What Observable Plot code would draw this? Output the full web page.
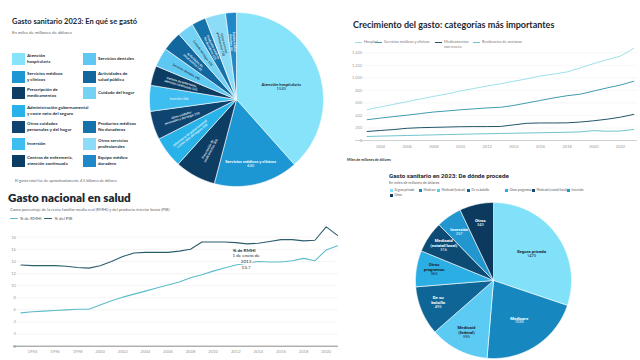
<!DOCTYPE html>
<html lang="es"><head><meta charset="utf-8">
<script src="https://cdn.jsdelivr.net/npm/d3@7"></script>
<script src="https://cdn.jsdelivr.net/npm/@observablehq/plot@0.6"></script>
<style>
html,body{margin:0;padding:0;background:#fff;}
body{width:640px;height:360px;position:relative;overflow:hidden;font-family:Lato,"Open Sans",sans-serif;color:#1b2733;}
.a{position:absolute;white-space:nowrap;}
.lg1{position:absolute;display:flex;align-items:center;}
.lg1 .sw{width:13px;height:12px;flex:none;margin-right:2px;}
.lg1 .tx{font-size:4.5px;font-weight:700;line-height:1.3;white-space:pre;color:#23313f;}
.lg2{position:absolute;display:flex;align-items:flex-start;font-size:3.8px;color:#777;white-space:pre;line-height:1.2;}
.lg2 .ln{width:7px;height:0;border-top:1px solid;margin:2px 2px 0 0;}
.lg3{position:absolute;display:flex;align-items:center;font-size:4.3px;color:#555;}
.lg3 .ln{width:8px;height:0;border-top:1.2px solid;margin:0 2px 0 0;}
.lg4{position:absolute;display:flex;align-items:center;font-size:3px;color:#555;white-space:nowrap;}
.lg4 .sq{width:3px;height:3px;margin-right:1.5px;}
.plot{position:absolute;}
</style></head><body>
<div id="root"></div>
<script>
// ---------- Panel 1: En qué se gastó ----------
const gastoCategorias = ["Atención hospitalaria","Servicios médicos y clínicos","Prescripción de medicamentos","Administración gubernamental y coste neto del seguro","Otros cuidados personales y del hogar","Inversión","Centros de enfermería, atención continuada","Servicios dentales","Actividades de salud pública","Cuidado del hogar","Productos médicos No duraderos","Otros servicios profesionales","Equipo médico duradero"];
const gastoLeyenda = ["Atención\nhospitalaria","Servicios médicos\ny clínicos","Prescripción de\nmedicamentos","Administración gubernamental\ny coste neto del seguro","Otros cuidados\npersonales y del hogar","Inversión","Centros de enfermería,\natención continuada","Servicios dentales","Actividades de\nsalud pública","Cuidado del hogar","Productos médicos\nNo duraderos","Otros servicios\nprofesionales","Equipo médico\nduradero"];
const gastoValores = [1520,620,300,230,210,190,145,140,145,120,105,150,80];
const gastoColores = ["#86e3fa","#1d97d4","#0e3d63","#27b3ea","#0f4470","#3dbdf0","#0c3c62","#5ec8f2","#12679e","#74d3f5","#1672ab","#8cdcf7","#1e88c8"];

// ---------- Panel 2: Crecimiento del gasto ----------
const anios2 = [2003,2004,2005,2006,2007,2008,2009,2010,2011,2012,2013,2014,2015,2016,2017,2018,2019,2020,2021,2022,2023];
const series2 = ["Hospital","Servicios médicos y clínicos","Medicamentos\ncon receta","Residencias de ancianos"];
const hospital2 = [492,535,578,620,662,705,745,790,830,870,905,946,985,1030,1060,1095,1160,1229,1290,1347,1470];
const servicios2 = [332,358,382,405,430,455,472,490,505,520,530,560,600,640,680,715,740,790,840,885,946];
const medicamentos2 = [144,160,175,195,205,210,215,220,222,222,224,250,275,280,280,282,295,315,340,372,417];
const residencias2 = [64,70,75,80,85,90,95,100,104,108,112,116,120,124,128,132,138,158,148,152,176];
const colores2 = ["#9fe0ea","#3f9dae","#22566a","#72c3cd"];
const ticksX2 = [2004,2006,2008,2010,2012,2014,2016,2018,2020,2022];
const ticksY2 = [0,200,400,600,800,1000,1200,1400];

// ---------- Panel 3: Gasto nacional en salud ----------
const anios3 = [1993,1994,1995,1996,1997,1998,1999,2000,2001,2002,2003,2004,2005,2006,2007,2008,2009,2010,2011,2012,2013,2014,2015,2016,2017,2018,2019,2020,2021];
const pib3 = [13.4,13.3,13.3,13.3,13.2,13.0,12.9,13.3,14.0,14.8,15.4,15.5,15.5,15.5,15.7,16.0,17.2,17.2,17.2,17.1,16.9,17.0,17.3,17.6,17.6,17.4,17.5,19.7,18.3];
const rmhi3 = [5.5,5.7,5.8,5.9,6.0,6.1,6.1,6.8,7.5,8.1,8.6,9.1,9.6,10.1,10.6,11.3,11.8,12.4,12.9,13.4,13.7,14.0,13.9,13.9,14.1,14.5,14.1,15.9,16.6];
const series3 = ["% de RMHI","% del PIB"];
const colores3 = ["#5cbccb","#2b5d6d"];
const ticksX3 = [1994,1996,1998,2000,2002,2004,2006,2008,2010,2012,2014,2016,2018,2020];
const ticksY3 = [0,2,4,6,8,10,12,14,16,18];
const nota3 = {anio: 2013, valor: 13.7, titulo: "% de RMHI", texto: "1 de enero de\n2013\n13.7"};

// ---------- Panel 4: De dónde procede ----------
const fuentes4 = ["Seguro privado","Medicare","Medicaid (federal)","De su bolsillo","Otros programas","Medicaid (estatal/local)","Inversión","Otros"];
const fuentesEtiqueta4 = ["Seguro privado","Medicare","Medicaid\n(federal)","De su\nbolsillo","Otros\nprogramas","Medicaid\n(estatal/local)","Inversión","Otros"];
const fuentesValores4 = [1470,1030,595,495,365,316,257,343];
const fuentesColores4 = ["#80e1f9","#1787c0","#5ccbf3","#0f6596","#2aaee4","#0d4a74","#2196cf","#0b3a5e"];

// ================= drawing =================
const root = document.body;
function el(tag, cls, css, html){const e=document.createElement(tag); if(cls) e.className=cls; if(css) e.style.cssText=css; if(html!=null) e.innerHTML=html; root.appendChild(e); return e;}
function place(node, left, top){const d=el("div","plot",`left:${left}px;top:${top}px;`); d.appendChild(node); return d;}

function piePolys(names, values){
  const arcs = d3.pie().sort(null).value(d=>d)(values);
  const poly = [];
  arcs.forEach((a,i)=>{
    const n = Math.max(3, Math.ceil((a.endAngle-a.startAngle)/0.012));
    poly.push({k:names[i], x:0, y:0});
    for(let j=0;j<=n;j++){const t=a.startAngle+(a.endAngle-a.startAngle)*j/n; poly.push({k:names[i], x:Math.sin(t), y:Math.cos(t)});}
    poly.push({k:names[i], x:0, y:0});
  });
  return {arcs, poly};
}

// ---- Panel 1 texts
el("div","a","left:12px;top:17px;font-weight:700;font-size:7.5px;color:#1b2733;","Gasto sanitario 2023: En qué se gastó");
el("div","a","left:12px;top:29.5px;font-size:4.4px;color:#666;","En miles de millones de dólares");
const rowTops = [53,71,87,105,121,138,155];
const col2Rows = [0,1,2,4,5,6];
gastoCategorias.forEach((c,i)=>{
  const left = i<7 ? 12 : 83;
  const top = i<7 ? rowTops[i] : rowTops[col2Rows[i-7]];
  const d = el("div","lg1",`left:${left}px;top:${top}px;height:12px;`);
  d.innerHTML = `<div class="sw" style="background:${gastoColores[i]}"></div><div class="tx">${gastoLeyenda[i]}</div>`;
});
el("div","a","left:15px;top:177.5px;font-size:3.8px;color:#666;","El gasto total fue de aproximadamente 4,5 billones de dólares");

// ---- Panel 1 pie
{
  const {arcs, poly} = piePolys(gastoCategorias, gastoValores);
  const lab = arcs.map((a,i)=>{
    const mid=(a.startAngle+a.endAngle)/2, span=a.endAngle-a.startAngle;
    const big = span>0.8;
    const r = big ? (i===0?0.55:0.7) : 0.66;
    const deg = mid*180/Math.PI;
    const rot = big ? 0 : (deg<180 ? deg-90 : deg-270);
    const dark = d3.lab(gastoColores[i]).l > 74;
    return {x:r*Math.sin(mid), y:r*Math.cos(mid), rot, big,
      name: big ? gastoCategorias[i] : gastoLeyenda[i]+" "+gastoValores[i],
      value: String(gastoValores[i]), c: dark?"#1b2733":"#ffffff"};
  });
  const big = lab.filter(d=>d.big), small = lab.filter(d=>!d.big);
  const p = Plot.plot({
    width:176, height:176, margin:1,
    style:{background:"transparent", fontFamily:"Lato, sans-serif"},
    x:{domain:[-1,1], axis:null}, y:{domain:[-1,1], axis:null},
    color:{domain:gastoCategorias, range:gastoColores},
    marks:[
      Plot.line(poly,{x:"x",y:"y",z:"k",fill:"k",stroke:"#fff",strokeWidth:0.6,strokeLinejoin:"round"}),
      Plot.text(big,{x:"x",y:"y",text:"name",fill:"c",fontSize:4.2,fontWeight:700,lineAnchor:"bottom",dy:4}),
      Plot.text(big,{x:"x",y:"y",text:"value",fill:"c",fontSize:4,lineAnchor:"top",dy:5}),
      Plot.text(small,{x:"x",y:"y",text:"name",fill:"c",rotate:"rot",fontSize:3.1,fontWeight:600,lineHeight:1.1})
    ]
  });
  place(p, 148, 11);
}

// ---- Panel 2
el("div","a","left:353px;top:18.5px;font-weight:700;font-size:9px;color:#1b2733;","Crecimiento del gasto: categorías más importantes");
{
  const xs=[355,375,435,473];
  series2.forEach((s,i)=>{
    const d=el("div","lg2",`left:${xs[i]}px;top:40px;`);
    d.innerHTML=`<div class="ln" style="border-color:${colores2[i]}"></div><div>${s}</div>`;
  });
  const vals=[hospital2,servicios2,medicamentos2,residencias2];
  const data=[]; series2.forEach((s,i)=>anios2.forEach((y,j)=>data.push({serie:s,anio:y,valor:vals[i][j]})));
  const p = Plot.plot({
    width:305, height:115, marginLeft:31.7, marginRight:6.7, marginTop:12.3, marginBottom:15,
    style:{background:"transparent", fontFamily:"Lato, sans-serif", fontSize:"4px", color:"#9a9a9a"},
    x:{domain:[2003,2023], ticks:ticksX2, tickFormat:d=>String(d), tickSize:0, tickPadding:5, label:null},
    y:{domain:[0,1400], ticks:ticksY2, tickFormat:d3.format(","), tickSize:0, tickPadding:5, label:null},
    color:{domain:series2, range:colores2},
    marks:[
      Plot.ruleY(ticksY2.slice(1),{stroke:"#eeeeee",strokeWidth:0.5,insetLeft:-11.7,insetRight:-3.7}),
      Plot.ruleY([0],{stroke:"#bdbdbd",strokeWidth:0.7,insetLeft:-11.7,insetRight:-3.7}),
      Plot.line(data,{x:"anio",y:"valor",z:"serie",stroke:"serie",strokeWidth:1})
    ]
  });
  place(p, 335, 40);
  el("div","a","left:347px;top:158px;font-size:3.5px;font-weight:700;color:#333;","Miles de millones de dólares");
}

// ---- Panel 3
el("div","a","left:8px;top:191px;font-weight:800;font-size:11.6px;color:#1b2733;","Gasto nacional en salud");
el("div","a","left:10px;top:207px;font-size:4.1px;color:#666;","Como porcentaje de la renta familiar media real (RMHI) y del producto interior bruto (PIB)");
{
  const l=el("div","lg3","left:10px;top:216px;");
  l.innerHTML = series3.map((s,i)=>`<div class="ln" style="border-color:${colores3[i]}"></div><div style="margin-right:3px">${s}</div>`).join("");
  const data=[];
  anios3.forEach((y,j)=>{data.push({serie:series3[0],anio:y,valor:rmhi3[j]}); data.push({serie:series3[1],anio:y,valor:pib3[j]});});
  const p = Plot.plot({
    width:340, height:138, marginLeft:20.5, marginRight:3, marginTop:2.6, marginBottom:14.3,
    style:{background:"transparent", fontFamily:"Lato, sans-serif", fontSize:"4.2px", color:"#9a9a9a"},
    x:{domain:[1993,2021], ticks:ticksX3, tickFormat:d=>String(d), tickSize:0, tickPadding:4, label:null},
    y:{domain:[0,20], ticks:ticksY3, tickSize:0, tickPadding:5, label:null},
    color:{domain:series3, range:colores3},
    marks:[
      Plot.ruleY(ticksY3.slice(1),{stroke:"#eeeeee",strokeWidth:0.6,insetLeft:-7.5,insetRight:-1}),
      Plot.ruleY([0],{stroke:"#8a8a8a",strokeWidth:1,insetLeft:-7.5,insetRight:-1}),
      Plot.line(data,{x:"anio",y:"valor",z:"serie",stroke:"serie",strokeWidth:1.1}),
      Plot.text([nota3],{x:"anio",y:"valor",text:"titulo",fontSize:4.5,fontWeight:700,fill:"#1b2733",dx:-3,dy:-13,stroke:"#fff",strokeWidth:2}),
      Plot.text([nota3],{x:"anio",y:"valor",text:"texto",fontSize:4.5,fill:"#1b2733",lineAnchor:"top",dx:-1,dy:-10,lineHeight:1.3,stroke:"#fff",strokeWidth:2})
    ]
  });
  place(p, 0, 222);
}

// ---- Panel 4
el("div","a","left:389px;top:172px;font-weight:700;font-size:6.2px;color:#1b2733;font-family:Roboto,sans-serif;","Gasto sanitario en 2023: De dónde procede");
el("div","a","left:389px;top:180.5px;font-size:3.6px;color:#666;font-family:Roboto,sans-serif;","En miles de millones de dólares");
{
  const lx=[390,419,437,467,505,532,567,390], ly=[188,188,188,188,188,188,188,193];
  fuentes4.forEach((f,i)=>{
    const d=el("div","lg4",`left:${lx[i]}px;top:${ly[i]}px;`);
    d.innerHTML=`<div class="sq" style="background:${fuentesColores4[i]}"></div><div>${f}</div>`;
  });
  const {arcs, poly} = piePolys(fuentes4, fuentesValores4);
  const lab = arcs.map((a,i)=>{
    const mid=(a.startAngle+a.endAngle)/2, span=a.endAngle-a.startAngle;
    const r = span>1 ? 0.6 : 0.77;
    const dark = d3.lab(fuentesColores4[i]).l > 62;
    return {x:r*Math.sin(mid), y:r*Math.cos(mid), name:fuentesEtiqueta4[i], value:String(fuentesValores4[i]), c: dark?"#1b2733":"#ffffff"};
  });
  const p = Plot.plot({
    width:158, height:158, margin:1,
    style:{background:"transparent", fontFamily:"Roboto, sans-serif"},
    x:{domain:[-1,1], axis:null}, y:{domain:[-1,1], axis:null},
    color:{domain:fuentes4, range:fuentesColores4},
    marks:[
      Plot.line(poly,{x:"x",y:"y",z:"k",fill:"k",stroke:"#fff",strokeWidth:0.6,strokeLinejoin:"round"}),
      Plot.text(lab,{x:"x",y:"y",text:"name",fill:"c",fontSize:4.3,fontWeight:700,lineAnchor:"bottom",lineHeight:1.2}),
      Plot.text(lab,{x:"x",y:"y",text:"value",fill:"c",fontSize:4,lineAnchor:"top",dy:1})
    ]
  });
  place(p, 414, 201);
}
</script>
</body></html>
